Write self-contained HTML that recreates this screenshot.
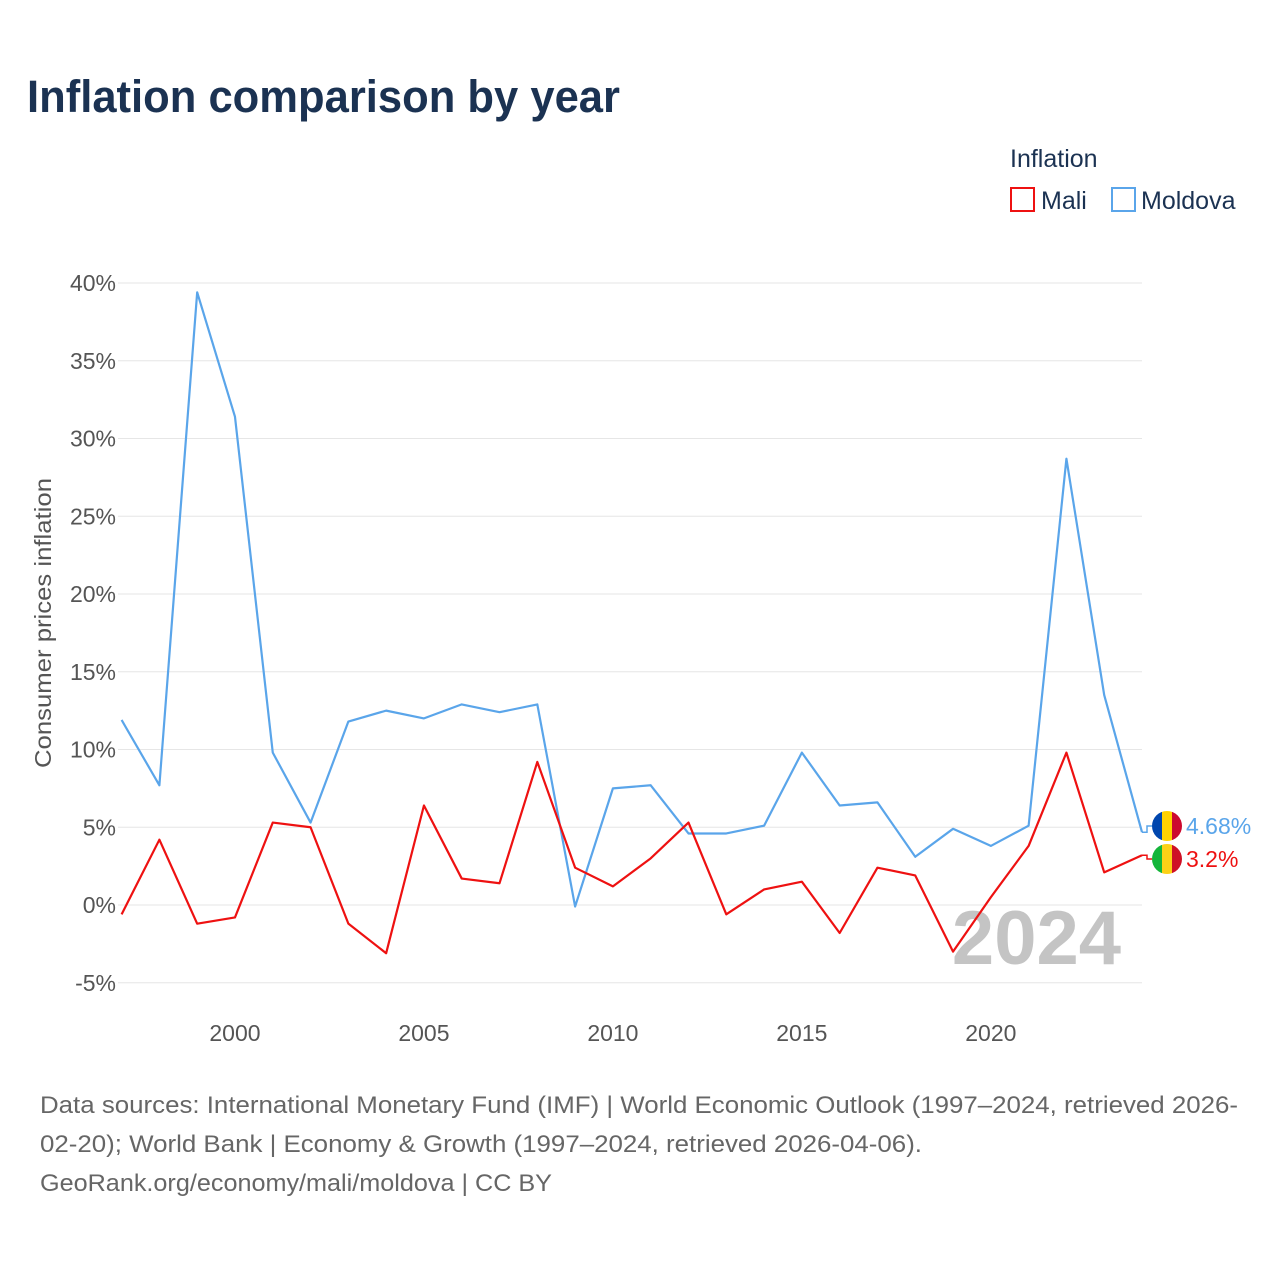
<!DOCTYPE html>
<html><head><meta charset="utf-8"><style>
body{margin:0;background:#fff;font-family:"Liberation Sans",sans-serif}
svg text{font-family:"Liberation Sans",sans-serif}
</style></head><body>
<svg id="chart" width="1280" height="1280" viewBox="0 0 1280 1280" xmlns="http://www.w3.org/2000/svg">
<rect width="1280" height="1280" fill="#fff"/>
<text x="27" y="112" font-size="45" font-weight="bold" fill="#1b3252" textLength="593" lengthAdjust="spacingAndGlyphs">Inflation comparison by year</text>
<text x="1010" y="167" font-size="25" fill="#1b3252">Inflation</text>
<g><rect x="1011" y="188" width="23" height="23" fill="none" stroke="#ee1111" stroke-width="2"/><text x="1041" y="209" font-size="25" fill="#1b3252">Mali</text></g>
<g><rect x="1112" y="188" width="23" height="23" fill="none" stroke="#5aa5ea" stroke-width="2"/><text x="1141" y="209" font-size="25" fill="#1b3252">Moldova</text></g>
<text transform="translate(51,623) rotate(-90)" text-anchor="middle" font-size="23" fill="#555" textLength="290" lengthAdjust="spacingAndGlyphs">Consumer prices inflation</text>
<g id="grid"></g><g id="ticks"></g>
<text x="1121" y="964" text-anchor="end" font-size="76" font-weight="bold" fill="#c4c4c4">2024</text>
<g id="series"></g>
<text font-size="24" fill="#666"><tspan x="40" y="1113" textLength="1198" lengthAdjust="spacingAndGlyphs">Data sources: International Monetary Fund (IMF) | World Economic Outlook (1997–2024, retrieved 2026-</tspan><tspan x="40" y="1152" textLength="882" lengthAdjust="spacingAndGlyphs">02-20); World Bank | Economy &amp; Growth (1997–2024, retrieved 2026-04-06).</tspan><tspan x="40" y="1191" textLength="512" lengthAdjust="spacingAndGlyphs">GeoRank.org/economy/mali/moldova | CC BY</tspan></text>
</svg>
<script>
const years=[1997,1998,1999,2000,2001,2002,2003,2004,2005,2006,2007,2008,2009,2010,2011,2012,2013,2014,2015,2016,2017,2018,2019,2020,2021,2022,2023,2024];
const moldova=[11.9,7.7,39.4,31.4,9.8,5.3,11.8,12.5,12.0,12.9,12.4,12.9,-0.1,7.5,7.7,4.6,4.6,5.1,9.8,6.4,6.6,3.1,4.9,3.8,5.1,28.7,13.5,4.68];
const mali=[-0.6,4.2,-1.2,-0.8,5.3,5.0,-1.2,-3.1,6.4,1.7,1.4,9.2,2.4,1.2,3.0,5.3,-0.6,1.0,1.5,-1.8,2.4,1.9,-3.0,0.5,3.8,9.8,2.1,3.2];
const yTicks=[-5,0,5,10,15,20,25,30,35,40];
const xTicks=[2000,2005,2010,2015,2020];
const NS="http://www.w3.org/2000/svg";
const X=y=>121.6+(y-1997)*(1142-121.6)/27;
const Y=v=>905-v*15.55;
function mk(t,a,p){const e=document.createElementNS(NS,t);for(const k in a)e.setAttribute(k,a[k]);p.appendChild(e);return e;}
const grid=document.getElementById('grid'),ticks=document.getElementById('ticks'),ser=document.getElementById('series');
yTicks.forEach(v=>{
 const l=mk('line',{x1:118,x2:1142,y1:Y(v),y2:Y(v),stroke:'#e6e6e6','stroke-width':1},grid);
 
 
 const t=mk('text',{x:116,y:Y(v)+8,'text-anchor':'end','font-size':23,fill:'#555'},ticks);
 t.textContent=v+'%';
 
 
});
xTicks.forEach(v=>{
 const t=mk('text',{x:X(v),y:1041,'text-anchor':'middle','font-size':23,fill:'#555'},ticks);
 t.textContent=v;
 
 
});
function line(vals,color,name){
 const p=mk('polyline',{points:vals.map((v,i)=>X(years[i])+','+Y(v)).join(' '),fill:'none',stroke:color,'stroke-width':2.2,'stroke-linejoin':'round'},ser);
 
 
}
line(moldova,'#5aa5ea','moldova-line');
line(mali,'#ee1111','mali-line');
function endLabel(v,ly,color,cols,name,txt){
 const g=mk('g',{},ser);
 
 
 mk('polyline',{points:`${X(2024)},${Y(v)} 1147,${Y(v)} 1147,${ly} 1152,${ly}`,fill:'none',stroke:color,'stroke-width':1.5},g);
 const cx=1167,r=15;
 const cp=mk('clipPath',{id:'c'+name},g);mk('circle',{cx:cx,cy:ly,r:r},cp);
 cols.forEach((c,i)=>mk('rect',{x:cx-r+i*10,y:ly-r,width:10,height:2*r,fill:c,'clip-path':`url(#c${name})`},g));
 const t=mk('text',{x:1186,y:ly+8,'font-size':23,fill:color},g);t.textContent=txt;
}
endLabel(moldova[27],826,'#5aa5ea',['#0046ae','#ffd200','#cc092f'],'moldova-end-label',moldova[27]+'%');
endLabel(mali[27],859,'#ee1111',['#14b53a','#fcd116','#ce1126'],'mali-end-label',mali[27]+'%');
</script>
</body></html>
